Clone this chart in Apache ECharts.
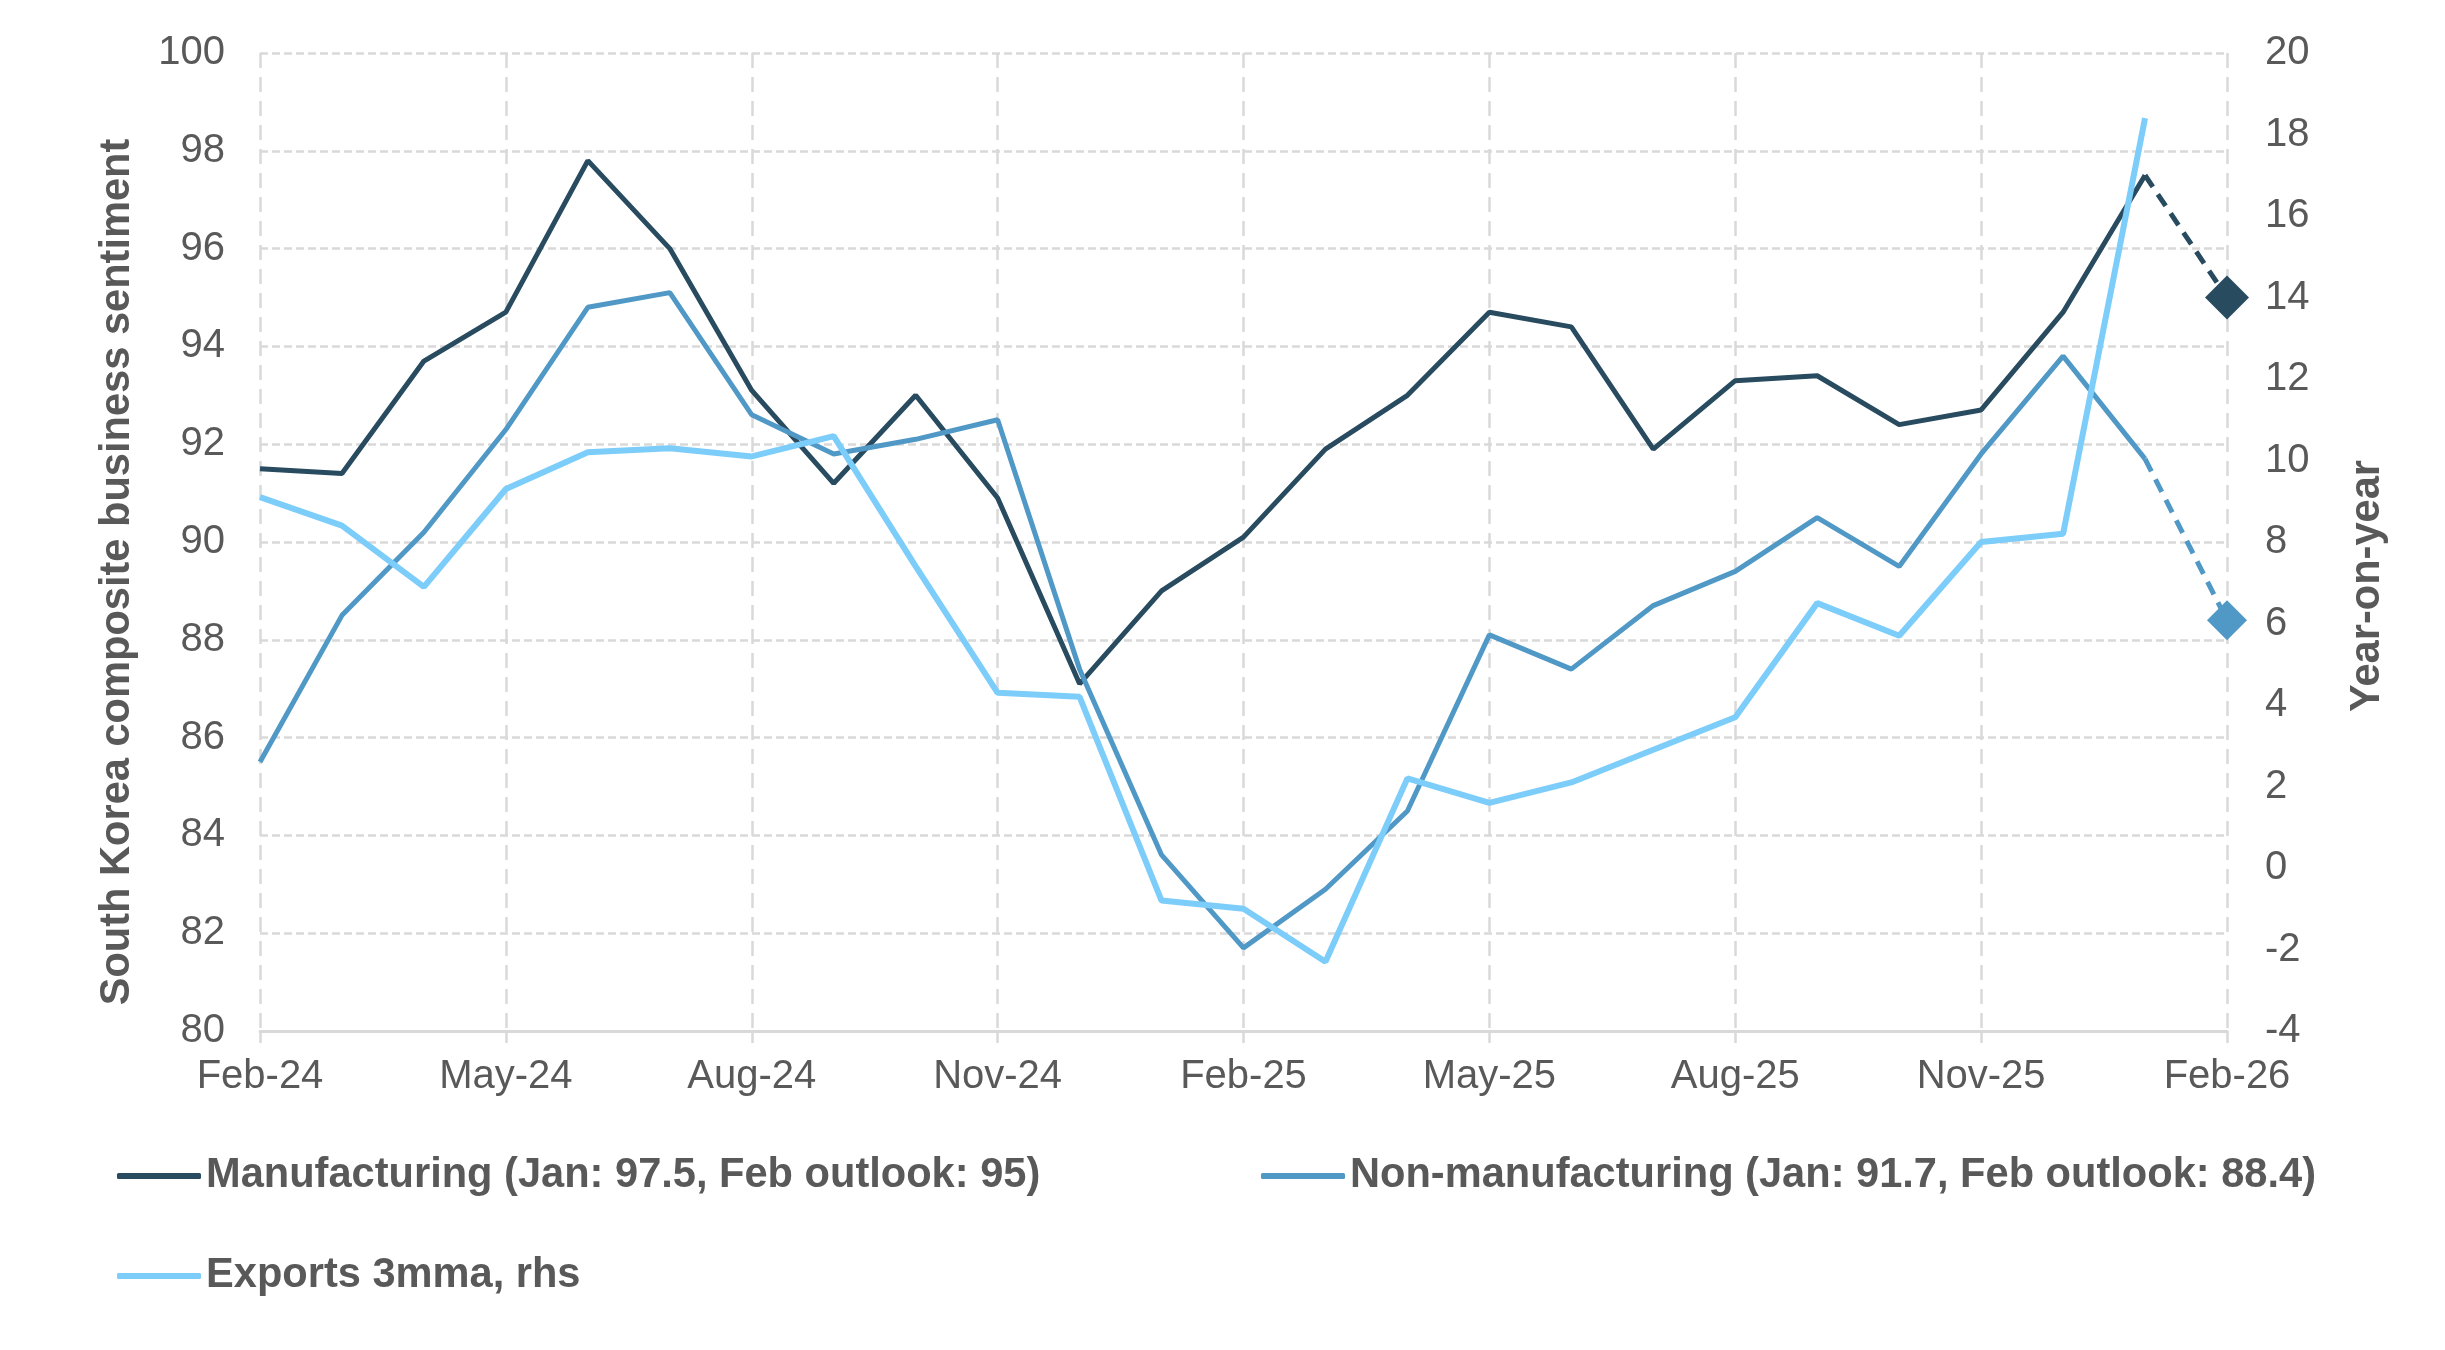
<!DOCTYPE html>
<html>
<head>
<meta charset="utf-8">
<script src="https://cdn.jsdelivr.net/npm/echarts@6/dist/echarts.min.js"></script>
<style>
html,body{margin:0;padding:0;background:#fff;}
#chart{width:2445px;height:1350px;}
</style>
</head>
<body>
<div id="chart"></div>
<script>
const months = ['Feb-24','Mar-24','Apr-24','May-24','Jun-24','Jul-24','Aug-24','Sep-24','Oct-24','Nov-24','Dec-24',
  'Jan-25','Feb-25','Mar-25','Apr-25','May-25','Jun-25','Jul-25','Aug-25','Sep-25','Oct-25','Nov-25','Dec-25',
  'Jan-26','Feb-26'];

const manufacturing = [91.5,91.4,93.7,94.7,97.8,96.0,93.1,91.2,93.0,90.9,87.1,
  89.0,90.1,91.9,93.0,94.7,94.4,91.9,93.3,93.4,92.4,92.7,94.7,97.5,null];
const manufacturingOutlook = [97.5, 95]; // Jan-26 actual, Feb-26 outlook

const nonManufacturing = [85.5,88.5,90.2,92.3,94.8,95.1,92.6,91.8,92.1,92.5,87.4,
  83.6,81.7,82.9,84.5,88.1,87.4,88.7,89.4,90.5,89.5,91.8,93.8,91.7,null];
const nonManufacturingOutlook = [91.7, 88.4];

const exports3mma = [9.1,8.4,6.9,9.3,10.2,10.3,10.1,10.6,7.4,4.3,4.2,
  -0.8,-1.0,-2.3,2.2,1.6,2.1,2.9,3.7,6.5,5.7,8.0,8.2,18.4,null];

const names = {
  man: 'Manufacturing (Jan: 97.5, Feb outlook: 95)',
  non: 'Non-manufacturing (Jan: 91.7, Feb outlook: 88.4)',
  exp: 'Exports 3mma, rhs'
};

const colors = { man: '#284B5F', non: '#5098C6', exp: '#7DCDFA' };
const textColor = '#595959';
const gridColor = '#D9D9D9';
const FONT = '"Liberation Sans", Arial, sans-serif';

function outlookData(pair) {
  const arr = months.map(() => null);
  const n = months.length;
  arr[n - 2] = { value: pair[0], symbol: 'none' };
  arr[n - 1] = { value: pair[1] };
  return arr;
}

const chart = echarts.init(document.getElementById('chart'), null, { renderer: 'canvas' });

const legendText = { color: textColor, fontSize: 41.6, fontWeight: 'bold', fontFamily: FONT };
const legendBase = {
  orient: 'horizontal',
  icon: 'roundRect',
  itemWidth: 84,
  itemHeight: 6,
  padding: 0,
  textStyle: legendText,
  selectedMode: false
};

chart.setOption({
  backgroundColor: '#fff',
  animation: false,
  grid: { left: 260, right: 218, top: 53, bottom: 319, containLabel: false },
  legend: [
    Object.assign({}, legendBase, { data: [names.man], left: 117, top: 1155 }),
    Object.assign({}, legendBase, { data: [names.non], left: 1261, top: 1155 }),
    Object.assign({}, legendBase, { data: [names.exp], left: 117, top: 1255 })
  ],
  xAxis: {
    type: 'category',
    data: months,
    boundaryGap: false,
    axisLine: { show: true, onZero: false, lineStyle: { color: gridColor, width: 3 } },
    axisTick: { show: true, interval: 2, length: 12, lineStyle: { color: gridColor, width: 2.5 } },
    axisLabel: { interval: 2, color: textColor, fontSize: 40, fontFamily: FONT, margin: 26 },
    splitLine: { show: true, interval: 2, lineStyle: { color: gridColor, width: 2.5, type: [15, 9] } }
  },
  yAxis: [
    {
      type: 'value', min: 80, max: 100, interval: 2,
      axisLine: { show: false }, axisTick: { show: false },
      axisLabel: { color: textColor, fontSize: 40, fontFamily: FONT, margin: 35 },
      splitLine: { show: true, lineStyle: { color: gridColor, width: 2.5, type: [8, 4] } }
    },
    {
      type: 'value', min: -4, max: 20, interval: 2, position: 'right',
      axisLine: { show: false }, axisTick: { show: false },
      axisLabel: { color: textColor, fontSize: 40, fontFamily: FONT, margin: 38 },
      splitLine: { show: false }
    }
  ],
  graphic: [
    {
      type: 'text', x: 118, y: 572, rotation: Math.PI / 2,
      style: {
        text: 'South Korea composite business sentiment',
        font: 'bold 41.6px ' + FONT, fill: textColor,
        textAlign: 'center', textVerticalAlign: 'middle', align: 'center', verticalAlign: 'middle'
      }
    },
    {
      type: 'text', x: 2368, y: 586, rotation: Math.PI / 2,
      style: {
        text: 'Year-on-year',
        font: 'bold 41.6px ' + FONT, fill: textColor,
        textAlign: 'center', textVerticalAlign: 'middle', align: 'center', verticalAlign: 'middle'
      }
    }
  ],
  series: [
    {
      name: names.man, type: 'line', data: manufacturing, yAxisIndex: 0,
      showSymbol: false, symbol: 'none', color: colors.man,
      lineStyle: { color: colors.man, width: 5 }, z: 3
    },
    {
      name: names.non, type: 'line', data: nonManufacturing, yAxisIndex: 0,
      showSymbol: false, symbol: 'none', color: colors.non,
      lineStyle: { color: colors.non, width: 5 }, z: 4
    },
    {
      name: names.exp, type: 'line', data: exports3mma, yAxisIndex: 1,
      showSymbol: false, symbol: 'none', color: colors.exp,
      lineStyle: { color: colors.exp, width: 6 }, z: 5
    },
    {
      name: 'Manufacturing outlook', type: 'line', data: outlookData(manufacturingOutlook), yAxisIndex: 0,
      symbol: 'diamond', symbolSize: 44, showSymbol: true, color: colors.man,
      itemStyle: { color: colors.man },
      lineStyle: { color: colors.man, width: 5, type: [14, 9] }, z: 3
    },
    {
      name: 'Non-manufacturing outlook', type: 'line', data: outlookData(nonManufacturingOutlook), yAxisIndex: 0,
      symbol: 'diamond', symbolSize: 40, showSymbol: true, color: colors.non,
      itemStyle: { color: colors.non },
      lineStyle: { color: colors.non, width: 5, type: [14, 9] }, z: 4
    }
  ]
});
</script>
</body>
</html>
